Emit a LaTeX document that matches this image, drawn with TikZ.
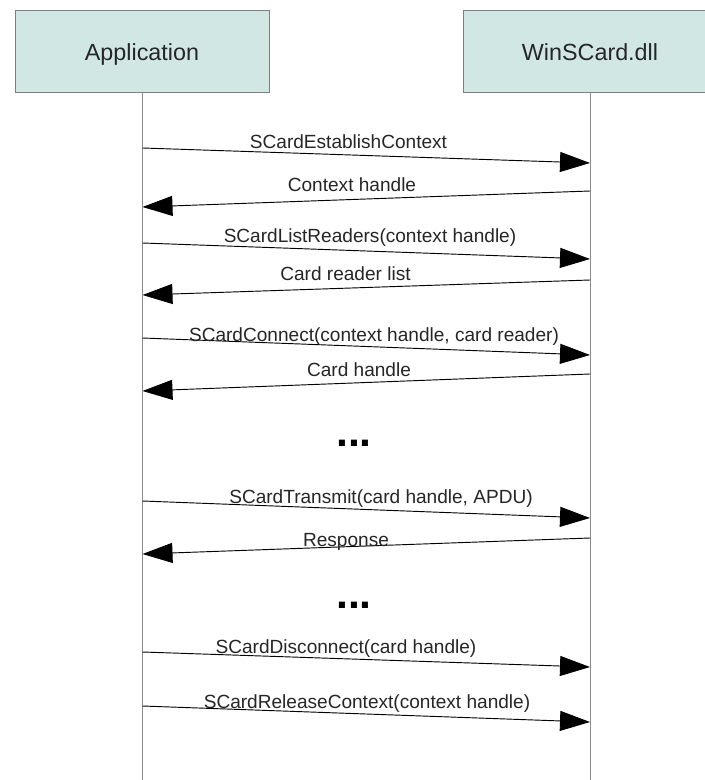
\documentclass[tikz,border=0pt]{standalone}
\usepackage{fontspec}
\setmainfont{Liberation Sans}
\usetikzlibrary{arrows.meta}
\definecolor{boxfill}{RGB}{208,231,227}
\definecolor{boxline}{RGB}{128,128,128}
\definecolor{lifecol}{RGB}{140,140,140}
\begin{document}
\begin{tikzpicture}[x=0.75pt,y=-0.75pt,
  actor/.style={draw=boxline, fill=boxfill, line width=0.75pt,
    minimum width=190.5pt, minimum height=61.5pt, inner sep=0pt,
    font=\fontsize{17.5pt}{21pt}\selectfont, text=black!85,
    text height=16pt, text depth=2.5pt},
  lifeline/.style={draw=lifecol, line width=0.75pt},
  msg/.style={draw=black, line width=0.7pt, -{Triangle[length=22.5pt,width=15pt]}},
  lbl/.style={anchor=base, inner sep=0pt, font=\fontsize{14.3pt}{17pt}\selectfont, text=black!85},
  dotsym/.style={anchor=base, inner sep=0pt, font=\fontsize{32pt}{36pt}\selectfont\bfseries}
]
\clip (0,0) rectangle (705,780);
\fill[white] (0,0) rectangle (705,780);

% actors
\node[actor] (app) at (142,52) {Application};
\node[actor] (win) at (590,52) {WinSCard.dll};

% lifeline ends
\coordinate (appbot) at (142.5,781);
\coordinate (winbot) at (590,781);
\draw[lifeline] (app.south -| appbot) -- (appbot);
\draw[lifeline] (win.south) -- (winbot);

% message end points
\coordinate (s1) at (142.5,148); \coordinate (e1) at (590,163);
\coordinate (s2) at (590,191);   \coordinate (e2) at (142.5,207);
\coordinate (s3) at (142.5,243); \coordinate (e3) at (590,259);
\coordinate (s4) at (590,280);   \coordinate (e4) at (142.5,295);
\coordinate (s5) at (142.5,338); \coordinate (e5) at (590,355);
\coordinate (s6) at (590,374);   \coordinate (e6) at (142.5,391);
\coordinate (s7) at (142.5,501); \coordinate (e7) at (590,518);
\coordinate (s8) at (590,538);   \coordinate (e8) at (142.5,554);
\coordinate (s9) at (142.5,652); \coordinate (e9) at (590,667);
\coordinate (s10) at (142.5,706); \coordinate (e10) at (590,722);

\draw[msg] (s1) -- (e1);
\draw[msg] (s2) -- (e2);
\draw[msg] (s3) -- (e3);
\draw[msg] (s4) -- (e4);
\draw[msg] (s5) -- (e5);
\draw[msg] (s6) -- (e6);
\draw[msg] (s7) -- (e7);
\draw[msg] (s8) -- (e8);
\draw[msg] (s9) -- (e9);
\draw[msg] (s10) -- (e10);

% labels
\node[lbl] (t1) at (348.5,149) {SCardEstablishContext};
\node[lbl] (t2) at (352,192) {Context handle};
\node[lbl] (t3) at (370,243) {SCardListReaders(context handle)};
\node[lbl] (t4) at (345.5,281) {Card reader list};
\node[lbl] (t5) at (374,341) {SCardConnect(context handle, card reader)};
\node[lbl] (t6) at (359,376) {Card handle};
\node[lbl] (t7) at (381,503) {SCardTransmit(card handle, APDU)};
\node[lbl] (t8) at (346,546) {Response};
\node[lbl] (t9) at (346,653) {SCardDisconnect(card handle)};
\node[lbl] (t10) at (367,708) {SCardReleaseContext(context handle)};

% ellipses
\node[dotsym] (d1) at (354,446) {...};
\node[dotsym] (d2) at (354,608) {...};
\end{tikzpicture}
\end{document}
